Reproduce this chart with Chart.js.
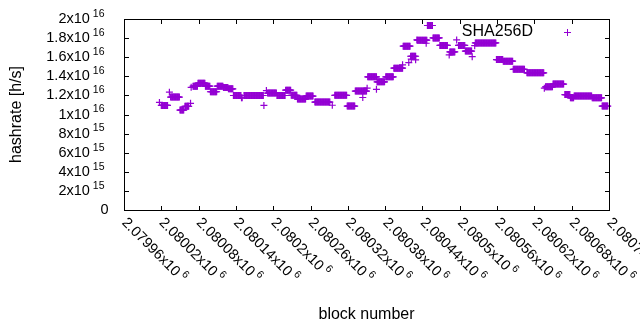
<!DOCTYPE html>
<html>
<head>
<meta charset="utf-8">
<script src="https://cdn.jsdelivr.net/npm/chart.js@4.4.1/dist/chart.umd.min.js"></script>
<style>
  html, body { margin: 0; padding: 0; background: #fff; }
</style>
</head>
<body>
<canvas id="grafico" width="640" height="330"></canvas>
<script>
// runs of blocks with the same hashrate estimate
const runStart = [2080017, 2080020, 2080033, 2080035, 2080050, 2080058, 2080067, 2080068, 2080071, 2080079,
  2080091, 2080099, 2080110, 2080120, 2080128, 2080136, 2080149, 2080153, 2080185, 2080189,
  2080191, 2080206, 2080220, 2080229, 2080239, 2080253, 2080267, 2080295, 2080299, 2080319,
  2080332, 2080344, 2080351, 2080352, 2080366, 2080367, 2080381, 2080394, 2080408, 2080409,
  2080418, 2080421, 2080422, 2080429, 2080431, 2080432, 2080446, 2080448, 2080457, 2080468,
  2080483, 2080484, 2080495, 2080498, 2080509, 2080520, 2080524, 2080525, 2080559, 2080570,
  2080586, 2080608, 2080636, 2080638, 2080650, 2080669, 2080678, 2080684, 2080713, 2080729];
const runEnd = [2080017, 2080030, 2080033, 2080049, 2080056, 2080064, 2080067, 2080068, 2080078, 2080090,
  2080098, 2080109, 2080119, 2080127, 2080135, 2080148, 2080150, 2080184, 2080185, 2080189,
  2080205, 2080219, 2080228, 2080238, 2080252, 2080264, 2080291, 2080295, 2080318, 2080331,
  2080350, 2080344, 2080351, 2080366, 2080366, 2080379, 2080393, 2080408, 2080408, 2080420,
  2080418, 2080429, 2080422, 2080429, 2080431, 2080447, 2080446, 2080456, 2080467, 2080480,
  2080483, 2080492, 2080495, 2080508, 2080519, 2080520, 2080524, 2080558, 2080569, 2080585,
  2080604, 2080635, 2080636, 2080649, 2080667, 2080677, 2080683, 2080712, 2080728, 2080738];
const runHash = [1.126e16, 1.095e16, 1.234e16, 1.182e16, 1.046e16, 1.086e16, 1.117e16, 1.285e16, 1.297e16, 1.328e16,
  1.297e16, 1.238e16, 1.297e16, 1.283e16, 1.269e16, 1.199e16, 1.175e16, 1.199e16, 1.095e16, 1.251e16,
  1.224e16, 1.199e16, 1.255e16, 1.201e16, 1.161e16, 1.193e16, 1.130e16, 1.097e16, 1.201e16, 1.088e16,
  1.245e16, 1.178e16, 1.276e16, 1.394e16, 1.264e16, 1.342e16, 1.394e16, 1.485e16, 1.520e16, 1.715e16,
  1.544e16, 1.610e16, 1.579e16, 1.572e16, 1.781e16, 1.778e16, 1.746e16, 1.932e16, 1.802e16, 1.723e16,
  1.624e16, 1.655e16, 1.781e16, 1.723e16, 1.664e16, 1.606e16, 1.721e16, 1.749e16, 1.575e16, 1.558e16,
  1.473e16, 1.436e16, 1.276e16, 1.290e16, 1.319e16, 1.209e16, 1.175e16, 1.193e16, 1.175e16, 1.088e16];

const serieNombre = "SHA256D";

const xTickLabels = ["2.07996x10^6", "2.08002x10^6", "2.08008x10^6", "2.08014x10^6", "2.0802x10^6",
  "2.08026x10^6", "2.08032x10^6", "2.08038x10^6", "2.08044x10^6", "2.0805x10^6",
  "2.08056x10^6", "2.08062x10^6", "2.08068x10^6", "2.08074x10^6"];
const yTickLabels = ["0", "2x10^15", "4x10^15", "6x10^15", "8x10^15", "1x10^16",
  "1.2x10^16", "1.4x10^16", "1.6x10^16", "1.8x10^16", "2x10^16"];

const morado = "#9400d3";
const fuente = "'Liberation Sans', Arial, sans-serif";

// one point per block inside every run
const puntos = [];
runStart.forEach((ini, i) => {
  for (let b = ini; b <= runEnd[i]; b++) {
    puntos.push({ x: b, y: runHash[i] });
  }
});

function textoSup(ctx, texto, x, y, alinear) {
  const partes = texto.split("^");
  ctx.font = "14.5px " + fuente;
  const wMain = ctx.measureText(partes[0]).width;
  let wSup = 0;
  if (partes[1]) {
    ctx.font = "10.5px " + fuente;
    wSup = ctx.measureText(partes[1]).width + 3;
  }
  let x0 = x;
  if (alinear === "right") x0 = x - wMain - wSup;
  ctx.textAlign = "left";
  ctx.textBaseline = "middle";
  ctx.font = "14.5px " + fuente;
  ctx.fillText(partes[0], x0, y);
  if (partes[1]) {
    ctx.font = "10.5px " + fuente;
    ctx.fillText(partes[1], x0 + wMain + 3, y - 5);
  }
}

const marco = {
  id: "marco",
  afterDatasetsDraw(chart) {
    const { ctx, chartArea: a, scales: { x, y } } = chart;
    const L = Math.round(a.left) + 0.5, R = Math.round(a.right) + 0.5;
    const T = Math.round(a.top) + 0.5, B = Math.round(a.bottom) + 0.5;
    const largo = 4.5;
    ctx.save();
    ctx.strokeStyle = "#000";
    ctx.fillStyle = "#000";
    ctx.lineWidth = 1;
    ctx.strokeRect(L, T, R - L, B - T);

    ctx.beginPath();
    y.ticks.forEach(t => {
      const py = Math.round(y.getPixelForValue(t.value)) + 0.5;
      ctx.moveTo(L, py); ctx.lineTo(L + largo, py);
      ctx.moveTo(R, py); ctx.lineTo(R - largo, py);
    });
    x.ticks.forEach(t => {
      const px = Math.round(x.getPixelForValue(t.value)) + 0.5;
      ctx.moveTo(px, B); ctx.lineTo(px, B - largo);
      ctx.moveTo(px, T); ctx.lineTo(px, T + largo);
    });
    ctx.stroke();

    y.ticks.forEach((t, i) => {
      const py = y.getPixelForValue(t.value);
      const lab = yTickLabels[i];
      textoSup(ctx, lab, lab.includes("^") ? L - 20 : L - 16, py, "right");
    });
    x.ticks.forEach((t, i) => {
      const px = x.getPixelForValue(t.value);
      ctx.save();
      ctx.translate(px, B + 10);
      ctx.rotate(Math.PI / 4);
      textoSup(ctx, xTickLabels[i], 0, 0, "left");
      ctx.restore();
    });

    ctx.font = "16px " + fuente;
    ctx.textAlign = "center";
    ctx.textBaseline = "middle";
    ctx.fillText("block number", (a.left + a.right) / 2, 315);
    ctx.save();
    ctx.translate(17, (a.top + a.bottom) / 2);
    ctx.rotate(-Math.PI / 2);
    ctx.fillText("hashrate [h/s]", 0, 0);
    ctx.restore();

    // key
    ctx.textAlign = "right";
    ctx.fillText(serieNombre, 533, 32);
    ctx.strokeStyle = morado;
    Chart.helpers.drawPoint(ctx, { pointStyle: "cross", radius: 3.5, borderWidth: 1 }, 567.5, 32.5);
    ctx.restore();
  }
};

new Chart(document.getElementById("grafico"), {
  type: "scatter",
  data: {
    datasets: [{
      label: serieNombre,
      data: puntos,
      pointStyle: "cross",
      pointRadius: 3.5,
      pointBorderWidth: 1.2,
      borderColor: morado,
      backgroundColor: morado,
      clip: false
    }]
  },
  options: {
    responsive: false,
    animation: false,
    events: [],
    layout: { padding: { left: 124, right: 31, top: 19, bottom: 120 } },
    scales: {
      x: {
        type: "linear",
        display: false,
        min: 2079960,
        max: 2080740,
        ticks: { stepSize: 60, minRotation: 90, maxTicksLimit: 30 }
      },
      y: {
        type: "linear",
        display: false,
        min: 0,
        max: 2e16,
        ticks: { stepSize: 2e15, maxTicksLimit: 30 }
      }
    },
    plugins: {
      legend: { display: false },
      tooltip: { enabled: false }
    }
  },
  plugins: [marco]
});
</script>
</body>
</html>
